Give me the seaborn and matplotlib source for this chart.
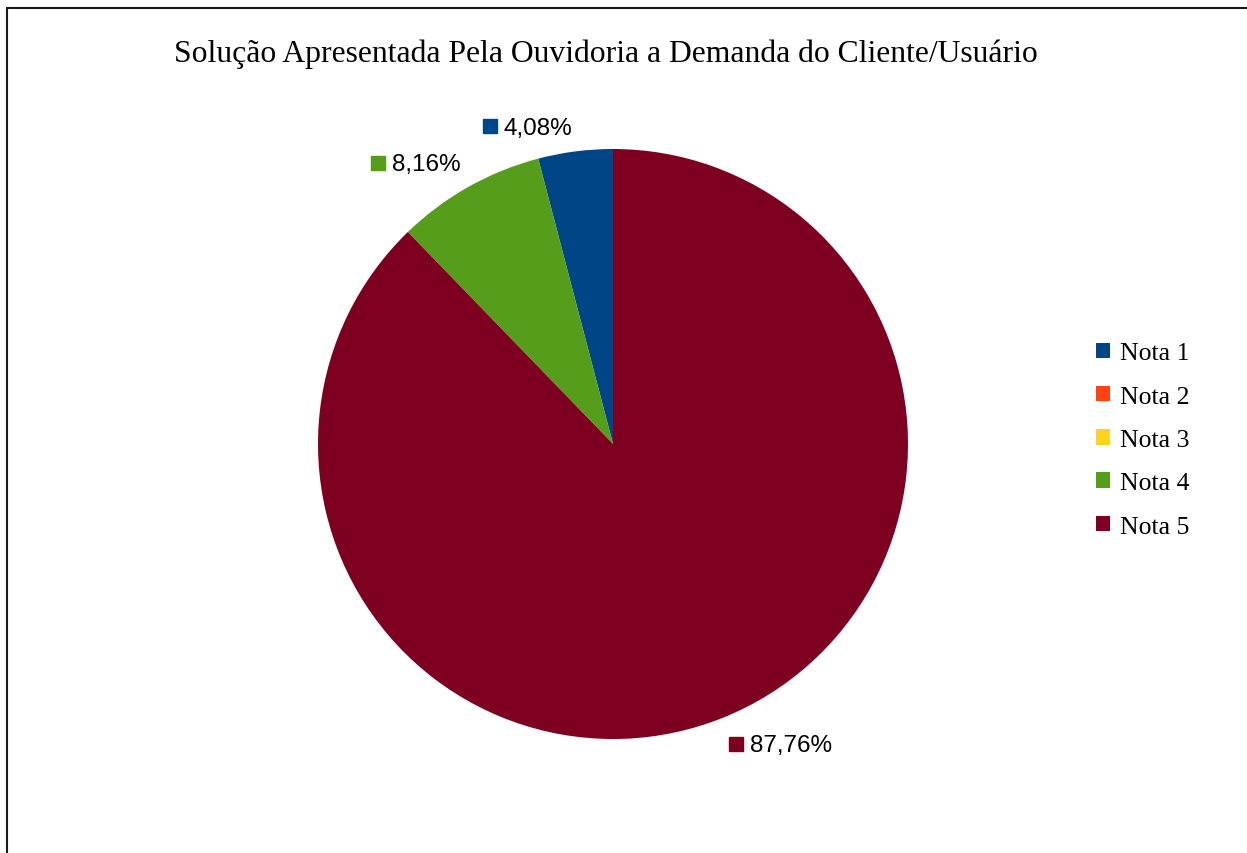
import matplotlib
matplotlib.use("Agg")
import matplotlib.pyplot as plt
from matplotlib.patches import Rectangle, Patch
import seaborn as sns

categories = ["Nota 1", "Nota 2", "Nota 3", "Nota 4", "Nota 5"]
values = [4.08, 0.0, 0.0, 8.16, 87.76]
value_labels = ["4,08%", "", "", "8,16%", "87,76%"]
colors = ["#004586", "#ff420e", "#ffd320", "#579d1c", "#7e0021"]
title = "Solução Apresentada Pela Ouvidoria a Demanda do Cliente/Usuário"

sns.set_theme(style="white")
plt.rcParams["font.family"] = ["Liberation Serif", "DejaVu Serif"]
plt.rcParams["text.color"] = "#000000"

W, H = 1247, 854
fig = plt.figure(figsize=(W / 100, H / 100), dpi=100)
fig.patch.set_facecolor("white")

cx, cy, R = 613, 445, 295
ax = fig.add_axes([(cx - R) / W, (H - cy - R) / H, 2 * R / W, 2 * R / H])
ax.pie(values, colors=colors, startangle=90, counterclock=True, radius=1,
       wedgeprops=dict(linewidth=0))
ax.set_xlim(-1, 1)
ax.set_ylim(-1, 1)
ax.set_aspect("equal")
ax.axis("off")

# label positions in pixel space (marker center x, text y)
label_pos = {0: (489.5, 127), 3: (377.5, 164), 4: (735.5, 745)}
for i, (px, py) in label_pos.items():
    dx = (px - cx) / R
    dy = (cy - py) / R
    ax.plot([dx], [dy], marker="s", markersize=9.4, color=colors[i],
            linestyle="none", clip_on=False)
    ax.text(dx + 14.5 / R, dy - 1.5 / R, value_labels[i], fontsize=17.5,
            family=["Liberation Sans", "DejaVu Sans"], va="center", ha="left",
            color="#000000")

fig.text(606 / W, 1 - 54 / H, title, fontsize=22.8, ha="center", va="center",
         family=["Liberation Serif", "DejaVu Serif"], color="#000000")

handles = [Patch(facecolor=c, edgecolor="none") for c in colors]
leg = fig.legend(handles, categories, loc="center left",
                 bbox_to_anchor=(1096 / W, 1 - 441 / H), frameon=False,
                 prop=dict(family=["Liberation Serif", "DejaVu Serif"], size=18.5),
                 handlelength=0.55, handleheight=0.55, handletextpad=0.38,
                 labelspacing=0.83, borderpad=0, borderaxespad=0,
                 labelcolor="#000000")

fig.add_artist(Rectangle((7 / W, -0.2), 1.5, (H - 9) / H + 0.2,
                         transform=fig.transFigure, fill=False,
                         edgecolor="#1a1a1a", linewidth=1.5))

fig.savefig("out.png", dpi=100)
